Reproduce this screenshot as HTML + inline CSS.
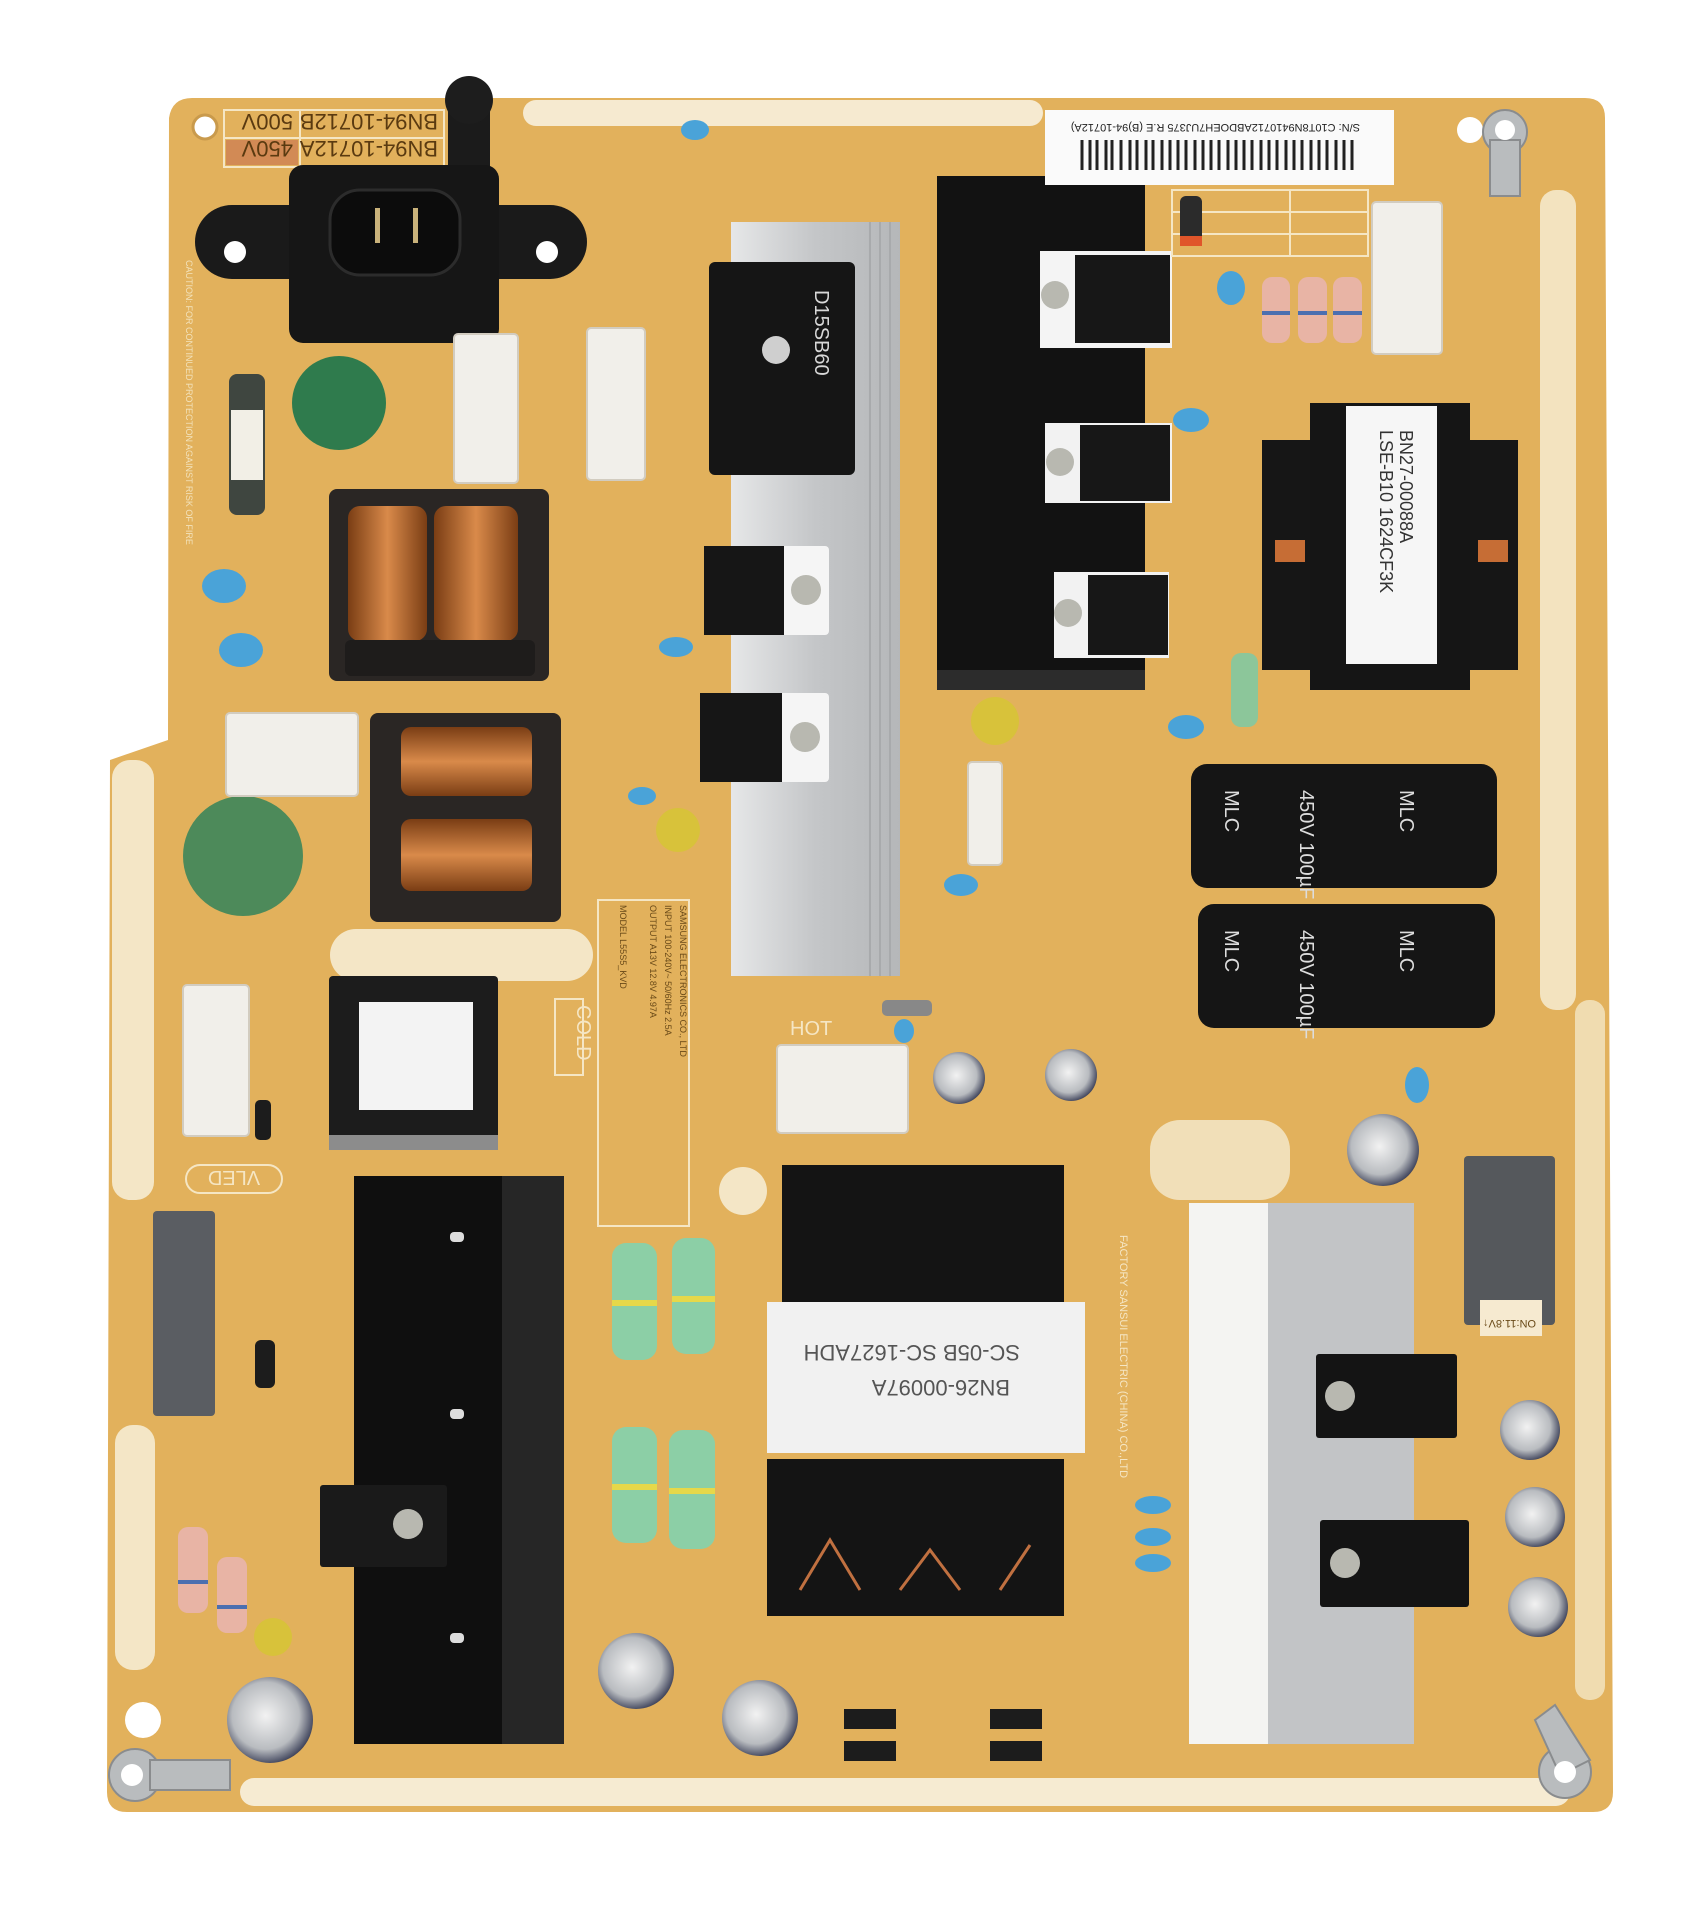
<!DOCTYPE html>
<html><head><meta charset="utf-8"><style>
html,body{margin:0;padding:0;background:#fff;}
svg{display:block;}
text{font-family:"Liberation Sans",sans-serif;}
</style></head><body>
<svg width="1688" height="1912" viewBox="0 0 1688 1912" xmlns="http://www.w3.org/2000/svg">
<defs>
<linearGradient id="al" x1="0" x2="1" y1="0" y2="0"><stop offset="0" stop-color="#e6e7e8"/><stop offset="0.5" stop-color="#c4c6c8"/><stop offset="1" stop-color="#b5b7b9"/></linearGradient>
<linearGradient id="cu" x1="0" x2="1"><stop offset="0" stop-color="#7a3d14"/><stop offset="0.5" stop-color="#d98a4a"/><stop offset="1" stop-color="#7a3d14"/></linearGradient>
<linearGradient id="cuv" x1="0" x2="0" y1="0" y2="1"><stop offset="0" stop-color="#7a3d14"/><stop offset="0.5" stop-color="#d98a4a"/><stop offset="1" stop-color="#7a3d14"/></linearGradient>
<radialGradient id="capt" cx="0.45" cy="0.45" r="0.6"><stop offset="0" stop-color="#f2f2f2"/><stop offset="0.65" stop-color="#b9bcc0"/><stop offset="1" stop-color="#2a2f4a"/></radialGradient>
</defs>
<rect width="1688" height="1912" fill="#fff"/>
<path d="M192,98 L1585,98 Q1605,98 1605,118 L1613,1792 Q1613,1812 1593,1812 L127,1812 Q107,1812 107,1792 L110,760 L168,740 L169,118 Q172,98 192,98 Z" fill="#e2b15c"/>
<rect x="523" y="100" width="520" height="26" rx="13" fill="#f6ead0"/>
<rect x="1540" y="190" width="36" height="820" rx="16" fill="#f3e3bf"/>
<rect x="1575" y="1000" width="30" height="700" rx="14" fill="#f0dcb0"/>
<rect x="112" y="760" width="42" height="440" rx="18" fill="#f4e6c6"/>
<rect x="115" y="1425" width="40" height="245" rx="18" fill="#f4e6c6"/>
<rect x="240" y="1778" width="1330" height="28" rx="14" fill="#f6ebd2"/>
<rect x="330" y="929" width="263" height="52" rx="26" fill="#f4e6c6"/>
<circle cx="743" cy="1191" r="24" fill="#f4e6c6"/>
<rect x="1150" y="1120" width="140" height="80" rx="30" fill="#f1dfb8"/>
<circle cx="205" cy="127" r="12" fill="#fff" stroke="#c99a4c" stroke-width="3"/>
<circle cx="143" cy="1720" r="18" fill="#fff"/>
<circle cx="1470" cy="130" r="13" fill="#fff"/>
<g stroke="#f5e6c4" stroke-width="2" fill="none"><rect x="224" y="110" width="220" height="57"/><line x1="224" y1="138" x2="444" y2="138"/><line x1="300" y1="110" x2="300" y2="167"/></g>
<rect x="226" y="140" width="72" height="25" fill="#d28a55"/>
<g fill="#5a3a10" font-size="22" transform="rotate(180 334 138)"><text x="230" y="135">BN94-10712A</text><text x="375" y="135">450V</text><text x="230" y="162">BN94-10712B</text><text x="375" y="162">500V</text></g>
<rect x="448" y="96" width="42" height="84" rx="10" fill="#1b1b1b"/><circle cx="469" cy="100" r="24" fill="#1d1d1d"/>
<rect x="195" y="205" width="392" height="74" rx="37" fill="#1a1a1a"/>
<circle cx="235" cy="252" r="11" fill="#fff"/><circle cx="547" cy="252" r="11" fill="#fff"/>
<rect x="289" y="165" width="210" height="178" rx="14" fill="#161616"/>
<rect x="330" y="190" width="130" height="85" rx="30" fill="#0c0c0c" stroke="#2c2c2c" stroke-width="3"/>
<rect x="375" y="208" width="5" height="35" fill="#c9b27a"/><rect x="413" y="208" width="5" height="35" fill="#c9b27a"/>
<g fill="#f3e2bb" font-size="9" transform="rotate(90 186 260)"><text x="186" y="260">CAUTION: FOR CONTINUED PROTECTION AGAINST RISK OF FIRE</text></g>
<rect x="229" y="374" width="36" height="141" rx="8" fill="#3f4640"/><rect x="231" y="410" width="32" height="70" fill="#f2efe6"/>
<circle cx="339" cy="403" r="47" fill="#2f7b4d"/><circle cx="243" cy="856" r="60" fill="#4d8a5a"/>
<g fill="#f1efea" stroke="#d2ccc0" stroke-width="2">
<rect x="454" y="334" width="64" height="149" rx="4"/><rect x="587" y="328" width="58" height="152" rx="4"/>
<rect x="1372" y="202" width="70" height="152" rx="4"/><rect x="226" y="713" width="132" height="83" rx="4"/>
<rect x="183" y="985" width="66" height="151" rx="4"/><rect x="777" y="1045" width="131" height="88" rx="4"/>
<rect x="968" y="762" width="34" height="103" rx="4"/></g>
<rect x="329" y="489" width="220" height="192" rx="8" fill="#2a2624"/>
<rect x="348" y="506" width="79" height="135" rx="12" fill="url(#cu)"/><rect x="434" y="506" width="84" height="135" rx="12" fill="url(#cu)"/>
<rect x="345" y="640" width="190" height="36" rx="6" fill="#1e1c1b"/>
<rect x="370" y="713" width="191" height="209" rx="8" fill="#2a2624"/>
<rect x="401" y="727" width="131" height="69" rx="10" fill="url(#cuv)"/><rect x="401" y="819" width="131" height="72" rx="10" fill="url(#cuv)"/>
<rect x="329" y="976" width="169" height="174" rx="4" fill="#1c1c1c"/><rect x="359" y="1002" width="114" height="108" fill="#f3f3f3"/>
<rect x="329" y="1135" width="169" height="15" fill="#8c8c8c"/>
<rect x="555" y="999" width="28" height="76" fill="none" stroke="#f5e6c4" stroke-width="2"/>
<text x="0" y="0" font-size="20" fill="#f5e6c4" transform="translate(577 1005) rotate(90)">COLD</text>
<rect x="186" y="1165" width="96" height="28" rx="14" fill="none" stroke="#f5e6c4" stroke-width="2"/>
<text x="234" y="1187" font-size="20" fill="#f5e6c4" text-anchor="middle" transform="rotate(180 234 1179)">VLED</text>
<text x="790" y="1035" font-size="20" fill="#f5e6c4">HOT</text>
<rect x="598" y="900" width="91" height="326" fill="none" stroke="#f5e6c4" stroke-width="2"/>
<g fill="#6a4a18" font-size="9"><text transform="translate(680 905) rotate(90)">SAMSUNG ELECTRONICS CO., LTD</text><text transform="translate(665 905) rotate(90)">INPUT 100-240V~ 50/60Hz 2.5A</text><text transform="translate(650 905) rotate(90)">OUTPUT A13V 12.8V 4.97A</text><text transform="translate(620 905) rotate(90)">MODEL L55S5_KVD</text></g>
<rect x="731" y="222" width="169" height="754" fill="url(#al)"/>
<g stroke="#a8aaac" stroke-width="2"><line x1="870" y1="222" x2="870" y2="976"/><line x1="880" y1="222" x2="880" y2="976"/><line x1="890" y1="222" x2="890" y2="976"/></g>
<rect x="709" y="262" width="146" height="213" rx="6" fill="#151515"/>
<circle cx="776" cy="350" r="14" fill="#cfcfcf"/>
<text transform="translate(815 290) rotate(90)" font-size="20" fill="#d8d8d8">D15SB60</text>
<g><rect x="704" y="546" width="125" height="89" rx="4" fill="#f5f5f5"/><rect x="704" y="546" width="80" height="89" fill="#161616"/><circle cx="806" cy="590" r="15" fill="#b8b8b0"/></g>
<g><rect x="700" y="693" width="129" height="89" rx="4" fill="#f5f5f5"/><rect x="700" y="693" width="82" height="89" fill="#161616"/><circle cx="805" cy="737" r="15" fill="#b8b8b0"/></g>
<rect x="937" y="176" width="208" height="514" fill="#121212"/>
<rect x="937" y="670" width="208" height="20" fill="#2c2c2c"/>
<g><rect x="1040" y="251" width="132" height="97" fill="#f4f4f4"/><rect x="1075" y="255" width="95" height="88" fill="#171717"/><circle cx="1055" cy="295" r="14" fill="#b8b8b0"/></g>
<g><rect x="1045" y="423" width="127" height="80" fill="#f2f2f2"/><rect x="1080" y="425" width="90" height="76" fill="#171717"/><circle cx="1060" cy="462" r="14" fill="#b8b8b0"/></g>
<g><rect x="1054" y="572" width="115" height="86" fill="#f2f2f2"/><rect x="1088" y="575" width="80" height="80" fill="#171717"/><circle cx="1068" cy="613" r="14" fill="#b8b8b0"/></g>
<rect x="1045" y="110" width="349" height="75" fill="#fafafa"/>
<g stroke="#222" stroke-width="3"><path d="M1082 140v30M1090 140v30M1097 140v30M1106 140v30M1112 140v30M1121 140v30M1130 140v30M1137 140v30M1146 140v30M1153 140v30M1162 140v30M1170 140v30M1178 140v30M1186 140v30M1195 140v30M1203 140v30M1211 140v30M1219 140v30M1228 140v30M1236 140v30M1244 140v30M1252 140v30M1261 140v30M1269 140v30M1277 140v30M1286 140v30M1294 140v30M1302 140v30M1311 140v30M1319 140v30M1327 140v30M1336 140v30M1344 140v30M1352 140v30"/></g>
<text x="1080" y="132" font-size="11" fill="#222" transform="rotate(180 1220 128)">S/N: C10T8N9410712ABDOEH7UJ375  R.E (B)94-10712A)</text>
<g stroke="#f5e6c4" stroke-width="2" fill="none"><rect x="1172" y="190" width="196" height="66"/><line x1="1172" y1="212" x2="1368" y2="212"/><line x1="1172" y1="234" x2="1368" y2="234"/><line x1="1290" y1="190" x2="1290" y2="256"/></g>
<rect x="1180" y="196" width="22" height="48" rx="6" fill="#2b2b2b"/><rect x="1180" y="236" width="22" height="10" fill="#e0552a"/>
<g fill="#e8b4a5"><rect x="1262" y="277" width="28" height="66" rx="10"/><rect x="1298" y="277" width="29" height="66" rx="10"/><rect x="1333" y="277" width="29" height="66" rx="10"/>
<rect x="178" y="1527" width="30" height="86" rx="10"/><rect x="217" y="1557" width="30" height="76" rx="10"/></g>
<g fill="#4b6fb0"><rect x="1262" y="311" width="28" height="4"/><rect x="1298" y="311" width="29" height="4"/><rect x="1333" y="311" width="29" height="4"/><rect x="178" y="1580" width="30" height="4"/><rect x="217" y="1605" width="30" height="4"/></g>
<rect x="1262" y="440" width="60" height="230" fill="#161616"/><rect x="1460" y="440" width="58" height="230" fill="#161616"/>
<rect x="1310" y="403" width="160" height="287" fill="#151515"/><rect x="1346" y="406" width="91" height="258" fill="#f6f6f6"/>
<rect x="1275" y="540" width="30" height="22" fill="#c66d35"/><rect x="1478" y="540" width="30" height="22" fill="#c66d35"/>
<text transform="translate(1400 430) rotate(90)" font-size="18" fill="#333">BN27-00088A</text>
<text transform="translate(1380 430) rotate(90)" font-size="18" fill="#333">LSE-B10 1624CF3K</text>
<rect x="1191" y="764" width="306" height="124" rx="16" fill="#151515"/>
<rect x="1198" y="904" width="297" height="124" rx="16" fill="#151515"/>
<g fill="#ddd" font-size="20"><text transform="translate(1225 790) rotate(90)">MLC</text><text transform="translate(1300 790) rotate(90)">450V 100µF</text><text transform="translate(1400 790) rotate(90)">MLC</text>
<text transform="translate(1225 930) rotate(90)">MLC</text><text transform="translate(1300 930) rotate(90)">450V 100µF</text><text transform="translate(1400 930) rotate(90)">MLC</text></g>
<rect x="1231" y="653" width="27" height="74" rx="10" fill="#8cc69a"/>
<rect x="354" y="1176" width="148" height="568" fill="#0f0f0f"/><rect x="502" y="1176" width="62" height="568" fill="#262626"/>
<g fill="#ddd"><rect x="450" y="1232" width="14" height="10" rx="4"/><rect x="450" y="1409" width="14" height="10" rx="4"/><rect x="450" y="1633" width="14" height="10" rx="4"/></g>
<rect x="320" y="1485" width="127" height="82" rx="3" fill="#1a1a1a"/><circle cx="408" cy="1524" r="15" fill="#b8b8b0"/>
<rect x="153" y="1211" width="62" height="205" rx="4" fill="#5a5d62"/>
<rect x="1464" y="1156" width="91" height="169" rx="4" fill="#55585c"/>
<g fill="url(#capt)"><circle cx="270" cy="1720" r="43"/><circle cx="636" cy="1671" r="38"/><circle cx="760" cy="1718" r="38"/><circle cx="959" cy="1078" r="26"/><circle cx="1071" cy="1075" r="26"/><circle cx="1383" cy="1150" r="36"/><circle cx="1530" cy="1430" r="30"/><circle cx="1535" cy="1517" r="30"/><circle cx="1538" cy="1607" r="30"/></g>
<g fill="#d8c23a"><circle cx="273" cy="1637" r="19"/><circle cx="678" cy="830" r="22"/><circle cx="995" cy="721" r="24"/></g>
<g fill="#8ccfa6"><rect x="612" y="1243" width="45" height="117" rx="14"/><rect x="672" y="1238" width="43" height="116" rx="14"/><rect x="612" y="1427" width="45" height="116" rx="14"/><rect x="669" y="1430" width="46" height="119" rx="14"/></g>
<g fill="#e6d84a"><rect x="612" y="1300" width="45" height="6"/><rect x="672" y="1296" width="43" height="6"/><rect x="612" y="1484" width="45" height="6"/><rect x="669" y="1488" width="46" height="6"/></g>
<rect x="782" y="1165" width="282" height="142" fill="#141414"/>
<rect x="767" y="1302" width="318" height="151" fill="#f1f1f1"/>
<rect x="767" y="1459" width="297" height="157" fill="#141414"/>
<g stroke="#c07040" stroke-width="3" fill="none"><path d="M800 1590 L830 1540 L860 1590 M900 1590 L930 1550 L960 1590 M1000 1590 L1030 1545"/></g>
<g fill="#555" font-size="22"><text x="840" y="1360" transform="rotate(180 925 1370)">BN26-00097A</text><text x="830" y="1395" transform="rotate(180 925 1370)">SC-05B SC-1627ADH</text></g>
<text transform="translate(1120 1235) rotate(90)" font-size="11" fill="#f5e6c4">FACTORY  SANSUI ELECTRIC (CHINA) CO.,LTD</text>
<rect x="1189" y="1203" width="225" height="541" fill="#c2c4c6"/><rect x="1189" y="1203" width="79" height="541" fill="#f4f4f2"/>
<g><rect x="1316" y="1354" width="141" height="84" rx="3" fill="#141414"/><circle cx="1340" cy="1396" r="15" fill="#b8b8b0"/></g>
<g><rect x="1320" y="1520" width="149" height="87" rx="3" fill="#141414"/><circle cx="1345" cy="1563" r="15" fill="#b8b8b0"/></g>
<rect x="1480" y="1300" width="62" height="36" fill="#f6ead0"/>
<text x="1486" y="1316" font-size="11" fill="#6a4a18" transform="rotate(180 1511 1318)">ON:11.8V↑</text>
<g fill="#4aa3d8"><ellipse cx="224" cy="586" rx="22" ry="17"/><ellipse cx="241" cy="650" rx="22" ry="17"/><ellipse cx="695" cy="130" rx="14" ry="10"/><ellipse cx="1231" cy="288" rx="14" ry="17"/><ellipse cx="1191" cy="420" rx="18" ry="12"/><ellipse cx="1186" cy="727" rx="18" ry="12"/><ellipse cx="961" cy="885" rx="17" ry="11"/><ellipse cx="676" cy="647" rx="17" ry="10"/><ellipse cx="642" cy="796" rx="14" ry="9"/><ellipse cx="904" cy="1031" rx="10" ry="12"/><ellipse cx="1417" cy="1085" rx="12" ry="18"/><ellipse cx="1153" cy="1505" rx="18" ry="9"/><ellipse cx="1153" cy="1537" rx="18" ry="9"/><ellipse cx="1153" cy="1563" rx="18" ry="9"/></g>
<g fill="#1c1c1c"><rect x="844" y="1709" width="52" height="20"/><rect x="844" y="1741" width="52" height="20"/><rect x="990" y="1709" width="52" height="20"/><rect x="990" y="1741" width="52" height="20"/><rect x="255" y="1340" width="20" height="48" rx="6"/><rect x="255" y="1100" width="16" height="40" rx="5"/><rect x="882" y="1000" width="50" height="16" rx="5" fill="#888"/></g>
<g fill="#b9bcbe" stroke="#8a8c8e" stroke-width="2"><circle cx="1505" cy="132" r="22"/><rect x="1490" y="140" width="30" height="56"/><circle cx="1565" cy="1772" r="26"/><path d="M1535 1720 L1555 1705 L1590 1760 L1560 1775Z"/><circle cx="135" cy="1775" r="26"/><rect x="150" y="1760" width="80" height="30"/></g>
<g fill="#fff"><circle cx="1505" cy="130" r="10"/><circle cx="1565" cy="1772" r="11"/><circle cx="132" cy="1775" r="11"/></g>
</svg>
</body></html>
